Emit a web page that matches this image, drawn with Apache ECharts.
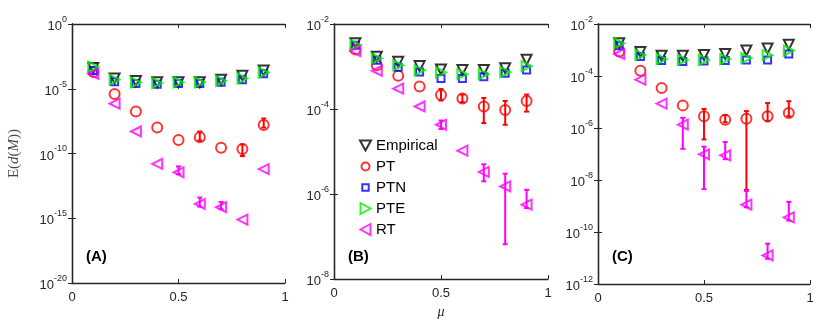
<!DOCTYPE html>
<html>
<head>
<meta charset="utf-8">
<script src="https://cdn.jsdelivr.net/npm/echarts@6/dist/echarts.min.js"></script>
<style>
  html, body { margin: 0; padding: 0; background: #fff; }
  #chart { width: 830px; height: 324px; }
</style>
</head>
<body>
<div id="chart"></div>
<script>
// mu values shared by all panels
var mu = [0.1, 0.2, 0.3, 0.4, 0.5, 0.6, 0.7, 0.8, 0.9];

// values are stored as log10 exponents
// Panel (A)
var empA = [-3.4, -4.2, -4.4, -4.5, -4.5, -4.5, -4.3, -4.0, -3.6];
var ptA  = [-3.7, -5.4, -6.75, -8.0, -8.95, -8.75, -9.55, -9.65, -7.8];
var ptnA = [-3.6, -4.45, -4.6, -4.65, -4.6, -4.6, -4.5, -4.3, -3.85];
var pteA = [-3.3, -4.3, -4.5, -4.55, -4.5, -4.5, -4.4, -4.2, -3.75];
var rtA  = [-3.85, -6.15, -8.3, -10.8, -11.45, -13.9, -14.15, -15.1, -11.2];
var ptErrA = [[0.6, -8.3, -9.0], [0.8, -9.3, -10.2], [0.9, -7.3, -8.0]];
var rtErrA = [[0.5, -11.0, -11.6], [0.6, -13.4, -14.1], [0.7, -13.75, -14.3]];

// Panel (B)
var empB = [-2.45, -2.77, -2.89, -2.99, -3.07, -3.08, -3.08, -3.04, -2.84];
var ptB  = [-2.6, -2.97, -3.22, -3.47, -3.67, -3.75, -3.94, -4.02, -3.81];
var ptnB = [-2.5, -2.85, -3.02, -3.13, -3.28, -3.28, -3.24, -3.16, -3.08];
var pteB = [-2.49, -2.81, -2.97, -3.09, -3.14, -3.18, -3.18, -3.13, -2.99];
var rtB  = [-2.64, -3.1, -3.52, -3.94, -4.37, -4.98, -5.48, -5.82, -6.25];
var ptErrB = [[0.5, -3.53, -3.8], [0.6, -3.66, -3.84], [0.7, -3.74, -4.33], [0.8, -3.81, -4.37], [0.9, -3.66, -4.06]];
var rtErrB = [[0.5, -4.27, -4.47], [0.7, -5.3, -5.7], [0.8, -5.52, -7.18], [0.9, -5.9, -6.33]];

// Panel (C)
var empC = [-2.74, -3.08, -3.22, -3.22, -3.19, -3.15, -3.02, -2.94, -2.8];
var ptC  = [-3.06, -3.8, -4.46, -5.13, -5.55, -5.68, -5.64, -5.55, -5.42];
var ptnC = [-2.84, -3.25, -3.4, -3.44, -3.42, -3.4, -3.38, -3.38, -3.15];
var pteC = [-2.74, -3.19, -3.35, -3.38, -3.38, -3.35, -3.31, -3.2, -3.02];
var rtC  = [-3.15, -4.14, -5.06, -5.87, -7.01, -7.05, -8.95, -10.9, -9.44];
var ptErrC = [[0.5, -5.27, -6.44], [0.6, -5.5, -5.78], [0.7, -5.35, -8.38], [0.8, -5.04, -5.74], [0.9, -4.97, -5.55]];
var rtErrC = [[0.4, -5.61, -6.8], [0.5, -6.72, -8.35], [0.6, -6.54, -7.2], [0.7, -8.42, -9.05], [0.8, -10.45, -11.03], [0.9, -8.84, -9.56]];

var xTicks = ['0', '0.5', '1'];
var panelNames = ['(A)', '(B)', '(C)'];
var yRanges = [[-20, 0, 5], [-8, -2, 2], [-12, -2, 2]];  // min exp, max exp, step
var grids = [
  { left: 72, top: 24, width: 213, height: 259 },
  { left: 334, top: 24, width: 214, height: 259 },
  { left: 598, top: 24, width: 212, height: 260 }
];

var axisColor = '#262626';
var font = '"Liberation Sans", Arial, sans-serif';

var styles = [
  { name: 'Empirical', color: '#000000', symbol: 'triangle', rotate: 180, size: 10, icon: 'path://M0,0L10,0L5,9Z' },
  { name: 'PT', color: '#ff0000', symbol: 'circle', rotate: 0, size: 10, icon: 'path://M0,0M1,5.5A4,4,0,1,1,9,5.5A4,4,0,1,1,1,5.5ZM10,11' },
  { name: 'PTN', color: '#0000ff', symbol: 'rect', rotate: 0, size: 7, icon: 'path://M0,0M2,2.5L9,2.5L9,9.5L2,9.5ZM11,12' },
  { name: 'PTE', color: '#00ee00', symbol: 'triangle', rotate: -90, size: 10, icon: 'path://M0,0L9,5L0,10Z' },
  { name: 'RT', color: '#ff00ff', symbol: 'triangle', rotate: 90, size: 10, icon: 'path://M9,0L0,5L9,10Z' }
];

var panels = [
  { vals: [empA, ptA, ptnA, pteA, rtA], err: [ptErrA, rtErrA] },
  { vals: [empB, ptB, ptnB, pteB, rtB], err: [ptErrB, rtErrB] },
  { vals: [empC, ptC, ptnC, pteC, rtC], err: [ptErrC, rtErrC] }
];

function pts(exps) {
  return exps.map(function (e, i) { return [mu[i], Math.pow(10, e)]; });
}

function errPts(list) {
  return list.map(function (d) { return [d[0], Math.pow(10, d[1]), Math.pow(10, d[2])]; });
}

function renderErr(params, api) {
  var x = api.value(0);
  var a = api.coord([x, api.value(1)]);
  var b = api.coord([x, api.value(2)]);
  var c = 2.5;
  var st = { stroke: api.visual('color'), lineWidth: 2 };
  return {
    type: 'group',
    children: [
      { type: 'line', shape: { x1: a[0], y1: a[1], x2: b[0], y2: b[1] }, style: st },
      { type: 'line', shape: { x1: a[0] - c, y1: a[1], x2: a[0] + c, y2: a[1] }, style: st },
      { type: 'line', shape: { x1: b[0] - c, y1: b[1], x2: b[0] + c, y2: b[1] }, style: st }
    ]
  };
}

function yLabel(v) {
  var e = Math.round(Math.log10(v));
  return '{b|10}{s|' + e + '}';
}

var xAxes = [], yAxes = [], series = [], graphics = [];

grids.forEach(function (g, k) {
  var r = yRanges[k];
  var common = {
    gridIndex: k,
    axisLine: { show: true, lineStyle: { color: axisColor, width: 1.3 } },
    axisTick: { show: true, inside: true, length: 4, lineStyle: { color: axisColor } },
    splitLine: { show: false }
  };
  xAxes.push(Object.assign({}, common, {
    type: 'value', min: 0, max: 1, interval: 0.5, position: 'bottom',
    axisLabel: { color: axisColor, fontFamily: font, fontSize: 13, margin: 8,
      formatter: function (v) { return xTicks[Math.round(v * 2)]; } },
    name: k === 1 ? 'μ' : '', nameLocation: 'middle', nameGap: 22,
    nameTextStyle: { fontFamily: '"Liberation Serif", serif', fontStyle: 'italic', fontSize: 14, color: axisColor }
  }));
  xAxes.push(Object.assign({}, common, {
    type: 'value', min: 0, max: 1, interval: 0.5, position: 'top',
    axisLabel: { show: false }
  }));
  yAxes.push(Object.assign({}, common, {
    type: 'log', logBase: 10, min: Math.pow(10, r[0]), max: Math.pow(10, r[1]), interval: r[2],
    position: 'left',
    axisLabel: { color: axisColor, formatter: yLabel, margin: 5,
      rich: {
        b: { fontFamily: font, fontSize: 13, color: axisColor, lineHeight: 18, verticalAlign: 'bottom' },
        s: { fontFamily: font, fontSize: 9, color: axisColor, lineHeight: 18, verticalAlign: 'top' }
      } },
    name: k === 0 ? '{r|E(}{i|d}{r|(}{i|M}{r|))}' : '',
    nameLocation: 'middle', nameRotate: 90, nameGap: 50,
    nameTextStyle: { rich: {
      r: { fontFamily: '"Liberation Serif", serif', fontSize: 15, color: '#444' },
      i: { fontFamily: '"Liberation Serif", serif', fontStyle: 'italic', fontSize: 15, color: '#444' }
    } }
  }));
  yAxes.push(Object.assign({}, common, {
    type: 'log', logBase: 10, min: Math.pow(10, r[0]), max: Math.pow(10, r[1]), interval: r[2],
    position: 'right', axisLabel: { show: false }
  }));

  var p = panels[k];
  styles.forEach(function (s, j) {
    series.push({
      name: s.name, type: 'scatter',
      xAxisIndex: 2 * k, yAxisIndex: 2 * k,
      symbol: s.symbol, symbolRotate: s.rotate, symbolSize: s.size,
      itemStyle: { color: 'rgba(0,0,0,0)', borderColor: s.color, borderWidth: 2 },
      data: pts(p.vals[j]),
      z: 2 + j
    });
  });
  [[p.err[0], '#ff0000'], [p.err[1], '#ff00ff']].forEach(function (e, j) {
    series.push({
      name: 'err' + k + j, type: 'custom',
      xAxisIndex: 2 * k, yAxisIndex: 2 * k,
      renderItem: renderErr,
      itemStyle: { color: e[1] },
      encode: { x: 0, y: [1, 2] },
      data: errPts(e[0]),
      z: 10
    });
  });

  graphics.push({
    type: 'text', left: g.left + 14, top: 249,
    style: { text: panelNames[k], font: 'bold 15px ' + font, fill: '#000' }
  });
});

var chart = echarts.init(document.getElementById('chart'), null, { renderer: 'canvas' });
chart.setOption({
  animation: false,
  backgroundColor: '#fff',
  grid: grids.map(function (g) { return Object.assign({ containLabel: false }, g); }),
  xAxis: xAxes,
  yAxis: yAxes,
  legend: {
    data: styles.map(function (s) {
      return { name: s.name, icon: s.icon, itemStyle: { color: 'rgba(0,0,0,0)', borderColor: s.color, borderWidth: 2 } };
    }),
    orient: 'vertical', left: 354, top: 133,
    itemWidth: 11, itemHeight: 11, itemGap: 6,
    textStyle: { fontFamily: font, fontSize: 15, color: '#000' },
    selectedMode: false
  },
  graphic: graphics,
  series: series
});
</script>
</body>
</html>
